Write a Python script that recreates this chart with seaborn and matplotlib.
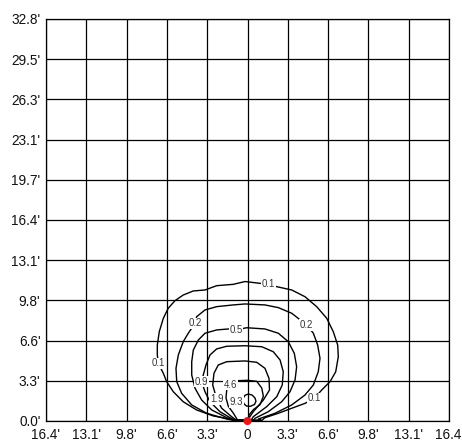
import matplotlib
matplotlib.use("Agg")
import matplotlib.pyplot as plt
import seaborn as sns
import pandas as pd

# ---- data (feet) ----
x_tick_values = [-16.4, -13.12, -9.84, -6.56, -3.28, 0.0, 3.28, 6.56, 9.84, 13.12, 16.4]
x_tick_labels = ["16.4'", "13.1'", "9.8'", "6.6'", "3.3'", "0", "3.3'", "6.6'", "9.8'", "13.1'", "16.4'"]
y_tick_values = [0.0, 3.28, 6.56, 9.84, 13.12, 16.4, 19.68, 22.96, 26.24, 29.52, 32.8]
y_tick_labels = ["0.0'", "3.3'", "6.6'", "9.8'", "13.1'", "16.4'", "19.7'", "23.1'", "26.3'", "29.5'", "32.8'"]

c01_x = [-1.18, -1.42, -2.78, -4.14, -5.23, -6.04, -6.58, -6.85, -7.26, -7.34, -7.34, -7.18, -6.85, -6.45,
         -5.90, -5.23, -4.41, -3.46, -2.51, -1.16, -0.20, 1.69, 2.38, 3.60, 4.68, 5.63, 6.45, 6.98,
         7.34, 7.39, 7.18, 6.72, 6.04, 5.44, 4.68, 3.60, 2.51, 1.42, 1.18, -1.18]
c01_y = [0.06, 0.16, 0.41, 0.90, 1.57, 2.39, 3.21, 3.89, 4.71, 5.39, 6.20, 7.29, 8.38, 9.20,
         9.82, 10.28, 10.61, 10.69, 11.04, 11.15, 11.38, 11.15, 10.96, 10.69, 10.14, 9.33, 8.38, 7.29,
         6.20, 5.25, 4.02, 3.21, 2.53, 1.85, 1.44, 1.04, 0.63, 0.27, 0.06, 0.06]

c02_x = [-1.18, -1.69, -3.32, -4.54, -5.36, -5.76, -5.82, -5.63, -5.23, -4.82, -4.27, -4.14, -3.46, -2.51,
         -1.16, -0.20, 1.42, 2.51, 3.60, 4.82, 5.36, 5.71, 5.90, 5.76, 5.36, 4.68, 3.60, 2.24, 0.88, 1.1, -1.18]
c02_y = [0.06, 0.16, 0.63, 1.31, 2.26, 3.21, 4.30, 5.39, 6.47, 7.16, 7.97, 8.51, 9.06, 9.33,
         9.47, 9.55, 9.47, 9.25, 8.79, 7.83, 7.16, 6.20, 5.12, 4.02, 2.94, 2.12, 1.31, 0.63, 0.16, 0.06, 0.06]

c05_x = [-1.1, -1.69, -2.91, -3.73, -4.27, -4.54, -4.54, -4.41, -4.00, -3.46, -2.51, -1.56, -0.94, -0.07,
         1.42, 2.51, 3.32, 3.81, 4.00, 3.87, 3.46, 2.78, 1.69, 0.61, 0.5, -1.1]
c05_y = [0.06, 0.27, 0.90, 1.71, 2.67, 3.75, 4.84, 5.79, 6.61, 7.16, 7.43, 7.51, 7.43, 7.61,
         7.51, 7.16, 6.47, 5.52, 4.43, 3.35, 2.39, 1.57, 0.76, 0.22, 0.06, 0.06]

c09_x = [-1.0, -1.42, -2.24, -3.05, -3.46, -3.73, -3.60, -3.38, -3.05, -2.51, -1.69, -0.20, 1.16, 2.10,
         2.65, 2.91, 2.83, 2.38, 1.56, 0.47, 0.3, -1.0]
c09_y = [0.06, 0.27, 0.76, 1.57, 2.39, 3.21, 3.75, 4.57, 5.39, 5.88, 6.10, 6.14, 6.06, 5.65,
         4.98, 4.02, 2.94, 1.98, 1.17, 0.35, 0.06, 0.06]

c19_x = [-0.9, -1.29, -2.10, -2.51, -2.83, -2.73, -2.38, -1.69, -0.20, 0.75, 1.42, 1.75, 1.79, 1.29,
         0.47, 0.12, 0.2, -0.9]
c19_y = [0.06, 0.35, 1.04, 1.80, 2.94, 3.89, 4.57, 4.84, 4.90, 4.79, 4.30, 3.48, 2.53, 1.71,
         0.76, 0.24, 0.06, 0.06]

c46_x = [-0.8, -1.16, -1.56, -1.75, -1.69, -1.42, -0.88, 0.02, 0.75, 1.16, 1.29, 1.02, 0.47, 0.12, 0.1, -0.8]
c46_y = [0.06, 0.65, 1.20, 1.88, 2.55, 2.96, 3.29, 3.32, 3.24, 2.69, 2.02, 1.33, 0.92, 0.49, 0.06, 0.06]

c93_x = [-0.34, -0.20, 0.07, 0.37, 0.61, 0.69, 0.57, 0.24, -0.08, -0.28, -0.37, -0.34]
c93_y = [1.88, 2.10, 2.20, 2.12, 1.88, 1.61, 1.35, 1.20, 1.22, 1.39, 1.63, 1.88]

label_text = ["0.1", "0.1", "0.1", "0.2", "0.2", "0.5", "0.9", "1.9", "4.6", "9.3"]
label_x = [1.69, -7.26, 5.44, -4.27, 4.82, -0.94, -3.73, -2.51, -1.42, -0.88]
label_y = [11.15, 4.71, 1.85, 7.97, 7.83, 7.43, 3.21, 1.80, 2.96, 1.53]

source_x = [0.0]
source_y = [0.0]

# ---- plot ----
sns.set_theme(style="white")
plt.rcParams["font.family"] = ["Liberation Sans", "DejaVu Sans"]

fig = plt.figure(figsize=(4.62, 4.46), dpi=100)
ax = fig.add_axes([46 / 462, 25 / 446, 403 / 462, 402 / 446])

contours = [(c01_x, c01_y), (c02_x, c02_y), (c05_x, c05_y), (c09_x, c09_y),
            (c19_x, c19_y), (c46_x, c46_y), (c93_x, c93_y)]
for cx, cy in contours:
    df = pd.DataFrame({"x": cx, "y": cy})
    sns.lineplot(data=df, x="x", y="y", sort=False, estimator=None,
                 color="black", linewidth=1.0, ax=ax, zorder=3,
                 solid_joinstyle="round", solid_capstyle="round")

for t, lx, ly in zip(label_text, label_x, label_y):
    ax.text(lx, ly, t, fontsize=6.9, color="#333333", ha="center", va="center",
            zorder=5,
            bbox=dict(boxstyle="square,pad=0.08", facecolor="white", edgecolor="none"))

sns.scatterplot(x=source_x, y=source_y, color="#e8141c", s=34, edgecolor="none",
                ax=ax, zorder=10, clip_on=False)

ax.set_xlim(-16.4, 16.4)
ax.set_ylim(0, 32.8)
ax.set_xticks(x_tick_values)
ax.set_xticklabels(x_tick_labels)
ax.set_yticks(y_tick_values)
ax.set_yticklabels(y_tick_labels)
ax.tick_params(axis="both", length=0, labelsize=9.8, colors="#111111")
ax.tick_params(axis="x", pad=5)
ax.tick_params(axis="y", pad=4)
ax.grid(True, color="black", linewidth=0.9)
ax.set_axisbelow(True)
for s in ax.spines.values():
    s.set_color("black")
    s.set_linewidth(0.9)
ax.set_xlabel("")
ax.set_ylabel("")

fig.savefig("out.png", dpi=100)
